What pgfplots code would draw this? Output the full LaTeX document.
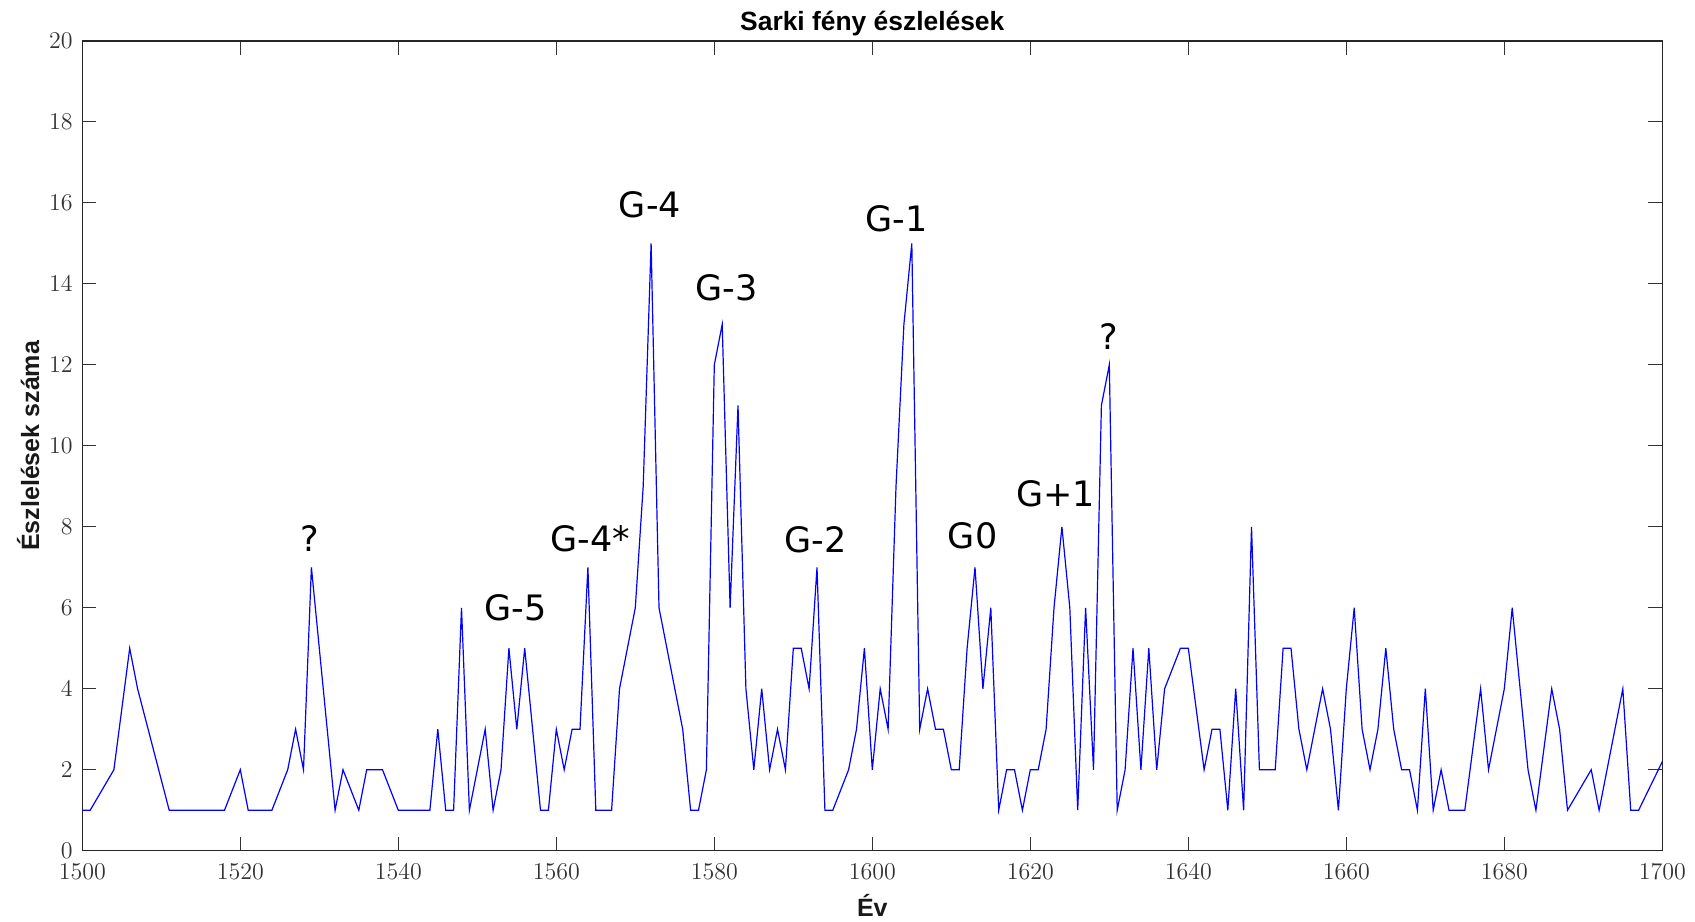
\documentclass[border=0pt]{standalone}
\usepackage{pgfplots}
\pgfplotsset{compat=1.18}
\usepackage{fontspec}
\newfontfamily\arialf{Liberation Sans}
\newfontfamily\dejavu{DejaVu Sans}

\pgfplotstableread{
yr v
1500 1
1501 1
1504 2
1506 5
1507 4
1511 1
1518 1
1520 2
1521 1
1524 1
1526 2
1527 3
1528 2
1529 7
1532 1
1533 2
1535 1
1536 2
1538 2
1540 1
1544 1
1545 3
1546 1
1547 1
1548 6
1549 1
1551 3
1552 1
1553 2
1554 5
1555 3
1556 5
1558 1
1559 1
1560 3
1561 2
1562 3
1563 3
1564 7
1565 1
1567 1
1568 4
1570 6
1571 9
1572 15
1573 6
1576 3
1577 1
1578 1
1579 2
1580 12
1581 13
1582 6
1583 11
1584 4
1585 2
1586 4
1587 2
1588 3
1589 2
1590 5
1591 5
1592 4
1593 7
1594 1
1595 1
1597 2
1598 3
1599 5
1600 2
1601 4
1602 3
1603 9
1604 13
1605 15
1606 3
1607 4
1608 3
1609 3
1610 2
1611 2
1612 5
1613 7
1614 4
1615 6
1616 1
1617 2
1618 2
1619 1
1620 2
1621 2
1622 3
1623 6
1624 8
1625 6
1626 1
1627 6
1628 2
1629 11
1630 12
1631 1
1632 2
1633 5
1634 2
1635 5
1636 2
1637 4
1639 5
1640 5
1642 2
1643 3
1644 3
1645 1
1646 4
1647 1
1648 8
1649 2
1651 2
1652 5
1653 5
1654 3
1655 2
1657 4
1658 3
1659 1
1660 4
1661 6
1662 3
1663 2
1664 3
1665 5
1666 3
1667 2
1668 2
1669 1
1670 4
1671 1
1672 2
1673 1
1675 1
1677 4
1678 2
1680 4
1681 6
1682 4
1683 2
1684 1
1686 4
1687 3
1688 1
1691 2
1692 1
1695 4
1696 1
1697 1
1702 3
}\auroradata

\begin{document}
\begin{tikzpicture}
\begin{axis}[
  name=ax,
  scale only axis,
  width=790pt, height=404.85pt,
  xmin=1500, xmax=1700, ymin=0, ymax=20,
  xtick={1500,1520,...,1700},
  ytick={0,2,...,20},
  tick align=inside,
  major tick length=7pt,
  axis line style={black!85, line width=0.6pt},
  every tick/.style={black!80, line width=0.5pt},
  tick label style={font=\fontsize{12}{14}\selectfont, text=black!80},
  xticklabel style={yshift=-3pt},
  yticklabel style={xshift=-1.3pt},
  /pgf/number format/1000 sep={},
  every axis title shift=0pt,
  title={Sarki fény észlelések},
  title style={at={(axis description cs:0.5,1)}, anchor=base, yshift=5.15pt,
    font=\arialf\bfseries\fontsize{13.2}{15}\selectfont, text=black},
  xlabel={Év},
  xlabel style={at={(axis description cs:0.5,0)}, anchor=base, yshift=-32.9pt,
    font=\arialf\bfseries\fontsize{12.5}{14}\selectfont, text=black!90},
  ylabel={Észlelések száma},
  ylabel style={at={(axis description cs:-0.0342,0.5)}, anchor=center,
    font=\arialf\bfseries\fontsize{12.5}{14}\selectfont, text=black!90},
]
\addplot[blue, line width=0.6pt, line join=miter] table[x=yr, y=v] {\auroradata};

\begin{scope}[every node/.style={anchor=base, inner sep=0pt, font=\dejavu\fontsize{17.5}{20}\selectfont}]
\node at (axis cs:1528.85,7.38) {?};
\node at (axis cs:1554.86,5.68) {G-5};
\node at (axis cs:1564.33,7.40) {G-4*};
\node at (axis cs:1571.86,15.64) {G-4};
\node at (axis cs:1581.57,13.59) {G-3};
\node at (axis cs:1592.8,7.36) {G-2};
\node at (axis cs:1603.04,15.30) {G-1};
\node at (axis cs:1612.7,7.46) {G0};
\node at (axis cs:1623.2,8.49) {G+1};
\node at (axis cs:1629.95,12.38) {?};
\end{scope}
\end{axis}
\pgfresetboundingbox
\path[use as bounding box] ([xshift=-41.15pt,yshift=-35.15pt]ax.south west) rectangle ([xshift=16.35pt,yshift=20.5pt]ax.north east);
\end{tikzpicture}
\end{document}
